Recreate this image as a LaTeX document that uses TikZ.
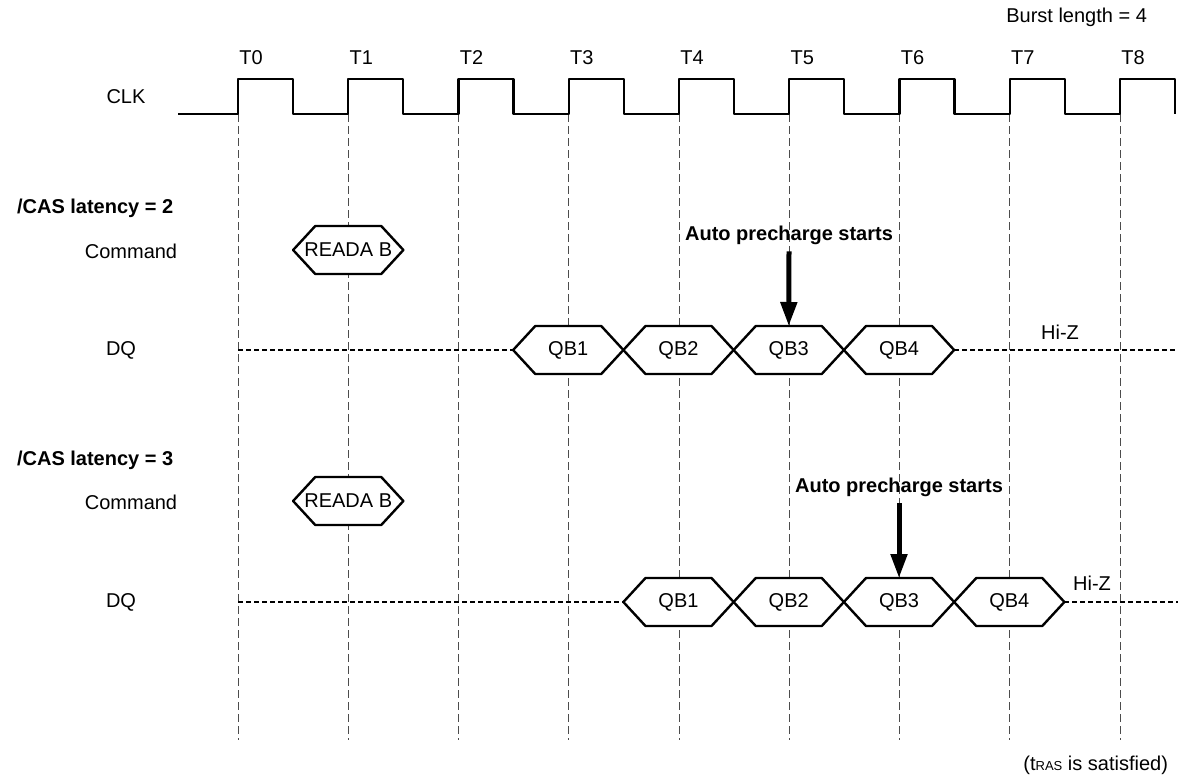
\documentclass[tikz,border=0pt]{standalone}
\usepackage{fontspec}
\setmainfont{Liberation Sans}
\usepackage{tikz}
\usetikzlibrary{arrows.meta}

% esagono di un valore sul bus (nome, x centro, y centro, testo)
\newcommand{\hexbus}[4]{%
  \draw[hexline] (#2-55.125,#3) -- (#2-33,#3-24) -- (#2+33,#3-24) -- (#2+55.125,#3)
    -- (#2+33,#3+24) -- (#2-33,#3+24) -- cycle;
  \node (#1) at (#2,#3) {#4};
  \coordinate (#1-w) at (#2-55.125,#3);
  \coordinate (#1-e) at (#2+55.125,#3);
  \coordinate (#1-n) at (#2,#3-24);
}

\begin{document}
\begin{tikzpicture}[x=0.5pt, y=-0.5pt, line join=round,
    clkline/.style={line width=1.2pt},
    hexline/.style={line width=1.2pt, fill=white},
    gridline/.style={line width=0.5pt, black!70, dash pattern=on 4pt off 2pt},
    hiz/.style={line width=1pt, dash pattern=on 2.5pt off 1.5pt},
    bigarrow/.style={line width=2.5pt, -{Triangle[length=12pt,width=8pt]}},
    bold/.style={font=\bfseries}]
  \useasboundingbox (0,0) rectangle (1178,778);

  % linee verticali tratteggiate sui fronti di salita
  \foreach \i in {0,...,8}
    \draw[gridline] ({238+110.25*\i},114) -- ({238+110.25*\i},740);

  % clock
  \draw[clkline] (178,114) \foreach \i in {0,...,8} {
      -- ({238+110.25*\i},114) -- ({238+110.25*\i},79)
      -- ({293+110.25*\i},79) -- ({293+110.25*\i},114) };
  \foreach \i in {0,...,8}
    \node[anchor=base west, inner sep=0pt] (t\i) at ({239+110.25*\i},64) {T\i};
  \node (clk) at (126,97) {CLK};
  \node[anchor=east] (burst) at (1154,17) {Burst length = 4};

  % /CAS latency = 2
  \node[bold, anchor=west] (cl2) at (10,208) {/CAS latency = 2};
  \node (cmda) at (131,251) {Command};
  \node (dqa) at (121,350) {DQ};
  \hexbus{readaa}{348.25}{250}{READA B}
  \coordinate (dqa0) at (238,350);
  \coordinate (dqa9) at (1178,350);
  \hexbus{qb1a}{568.25}{350}{QB1}
  \hexbus{qb2a}{678.5}{350}{QB2}
  \hexbus{qb3a}{788.75}{350}{QB3}
  \hexbus{qb4a}{899}{350}{QB4}
  \draw[hiz] (dqa0) -- (qb1a-w);
  \draw[hiz] (qb4a-e) -- (dqa9);
  \node (hiza) at (1060,332) {Hi-Z};
  \node[bold] (apa) at (789,235) {Auto precharge starts};
  \draw[bigarrow] (apa.south) -- (qb3a-n);

  % /CAS latency = 3
  \node[bold, anchor=west] (cl3) at (10,460) {/CAS latency = 3};
  \node (cmdb) at (131,502) {Command};
  \node (dqb) at (121,602) {DQ};
  \hexbus{readab}{348.25}{501}{READA B}
  \coordinate (dqb0) at (238,602);
  \coordinate (dqb9) at (1178,602);
  \hexbus{qb1b}{678.5}{602}{QB1}
  \hexbus{qb2b}{788.75}{602}{QB2}
  \hexbus{qb3b}{899}{602}{QB3}
  \hexbus{qb4b}{1009.25}{602}{QB4}
  \draw[hiz] (dqb0) -- (qb1b-w);
  \draw[hiz] (qb4b-e) -- (dqb9);
  \node (hizb) at (1092,583) {Hi-Z};
  \node[bold] (apb) at (899,487) {Auto precharge starts};
  \draw[bigarrow] (apb.south) -- (qb3b-n);

  \node[anchor=east] (tras) at (1175,765) {(t{\fontsize{6.5}{7}\selectfont RAS} is satisfied)};
\end{tikzpicture}
\end{document}
